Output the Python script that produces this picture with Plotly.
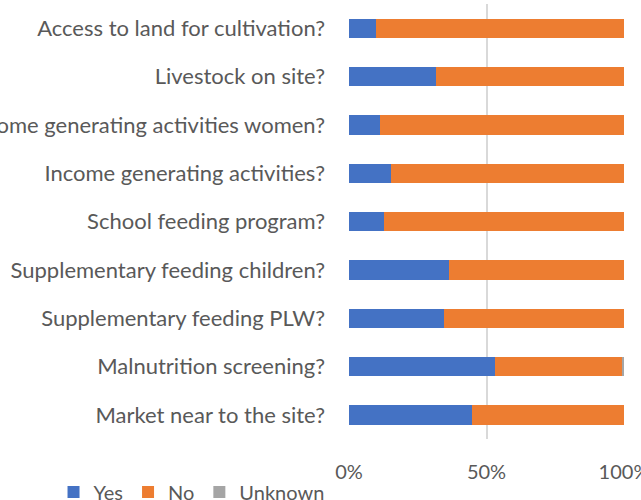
import plotly.graph_objects as go

# Survey questions (top to bottom) and share of sites answering each way, in %
questions = [
    "Access to land for cultivation?",
    "Livestock on site?",
    "Income generating activities women?",
    "Income generating activities?",
    "School feeding program?",
    "Supplementary feeding children?",
    "Supplementary feeding PLW?",
    "Malnutrition screening?",
    "Market near to the site?",
]
yes_pct = [9.7, 31.8, 11.1, 15.1, 12.8, 36.5, 34.5, 53.1, 44.7]
no_pct = [90.3, 68.2, 88.9, 84.9, 87.2, 63.5, 65.5, 46.5, 55.3]
unknown_pct = [0, 0, 0, 0, 0, 0, 0, 0.4, 0]

x_ticks = [0, 50, 100]
x_tick_labels = ["0%", "50%", "100%"]

series = [
    ("Yes", yes_pct, "#4472C4"),
    ("No", no_pct, "#ED7D31"),
    ("Unknown", unknown_pct, "#A5A5A5"),
]

FONT = "Lato"
TEXT = "#595959"

fig = go.Figure()
for name, vals, color in series:
    fig.add_trace(go.Bar(
        y=questions, x=vals, name=name, orientation="h",
        marker=dict(color=color, line=dict(width=0)),
    ))

fig.update_layout(
    width=641, height=500,
    barmode="stack", bargap=0.6,
    plot_bgcolor="white", paper_bgcolor="white",
    margin=dict(l=349, r=17, t=4, b=61, autoexpand=False),
    font=dict(family=FONT, size=19, color=TEXT),
    xaxis=dict(
        range=[0, 100], tickvals=x_ticks, ticktext=x_tick_labels,
        showgrid=True, gridcolor="#D9D9D9", gridwidth=1.5,
        zeroline=False, showline=False, ticks="",
        ticklabelstandoff=19, ticklabeloverflow="allow", automargin=False,
        tickfont=dict(size=20, color=TEXT),
    ),
    yaxis=dict(
        categoryorder="array", categoryarray=questions, autorange="reversed",
        showgrid=False, ticks="", ticklabelstandoff=23, automargin=False,
        tickfont=dict(size=22, color=TEXT),
    ),
    legend=dict(
        orientation="h", xref="container", yref="container",
        x=0.0835, xanchor="left", y=0.016, yanchor="middle",
        font=dict(size=20, color=TEXT),
        itemwidth=30, traceorder="normal",
    ),
)

fig.write_html("out.html")
